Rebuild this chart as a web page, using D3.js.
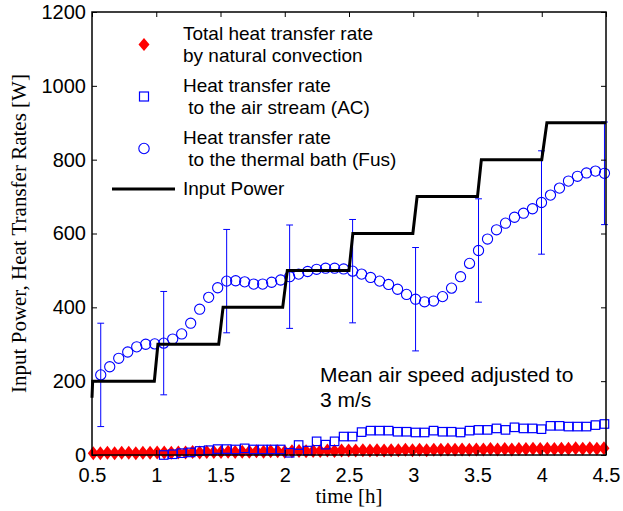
<!DOCTYPE html>
<html>
<head>
<meta charset="utf-8">
<script src="https://cdn.jsdelivr.net/npm/d3@7"></script>
<style>
  body { margin: 0; background: #fff; }
  svg { display: block; }
</style>
</head>
<body>
<svg id="chart" width="623" height="511"></svg>
<script>
// ---- data (time in hours, power in W) ----

// Input power: vertices of the stepped heater power curve
const powerTimes  = [0.5, 0.505, 0.985, 1.013, 1.486, 1.52, 1.984, 2.02, 2.5, 2.53, 2.997, 3.03, 3.5, 3.53, 4.0, 4.04, 4.5];
const powerValues = [155, 200, 200, 300, 300, 400, 400, 500, 500, 600, 600, 700, 700, 800, 800, 900, 900];

// Heat transfer rate to the thermal bath (Fus)
const fusTimes = [0.568, 0.638, 0.708, 0.778, 0.848, 0.918, 0.988, 1.058, 1.128, 1.198,
                  1.268, 1.338, 1.408, 1.478, 1.548, 1.618, 1.688, 1.758, 1.828, 1.898,
                  1.968, 2.038, 2.108, 2.178, 2.248, 2.318, 2.388, 2.458, 2.528, 2.598,
                  2.668, 2.738, 2.808, 2.878, 2.948, 3.018, 3.088, 3.158, 3.228, 3.298,
                  3.368, 3.438, 3.508, 3.578, 3.648, 3.718, 3.788, 3.858, 3.928, 3.998,
                  4.068, 4.138, 4.208, 4.278, 4.348, 4.418, 4.488];
const fusValues = [217, 239, 262, 279, 293, 300, 301, 303, 314, 328,
                   357, 395, 427, 453, 471, 472, 469, 463, 463, 468,
                   474, 483, 490, 497, 503, 506, 506, 504, 498, 490,
                   481, 471, 462, 449, 435, 422, 415, 417, 429, 452,
                   483, 519, 554, 585, 610, 628, 644, 655, 667, 684,
                   704, 723, 742, 755, 764, 769, 763];
// error bars: which Fus samples carry one, and the half-length of each bar
const fusErrorIndex = [0, 7, 14, 21, 28, 35, 42, 49, 56];
const fusErrorHalf  = [140, 140, 140, 140, 140, 140, 140, 140, 139];

// Heat transfer rate to the air stream (AC)
const acTimes = [1.058, 1.128, 1.198, 1.268, 1.338, 1.408, 1.478, 1.548, 1.618, 1.688,
                 1.758, 1.828, 1.898, 1.968, 2.038, 2.108, 2.178, 2.248, 2.318, 2.388,
                 2.458, 2.528, 2.598, 2.668, 2.738, 2.808, 2.878, 2.948, 3.018, 3.088,
                 3.158, 3.228, 3.298, 3.368, 3.438, 3.508, 3.578, 3.648, 3.718, 3.788,
                 3.858, 3.928, 3.998, 4.068, 4.138, 4.208, 4.278, 4.348, 4.418, 4.488];
const acValues = [0, 2, 5, 7, 11, 13, 16, 16, 15, 18,
                  15, 15, 15, 15, 6, 27, 12, 37, 28, 37,
                  50, 50, 62, 66, 66, 66, 63, 63, 61, 61,
                  66, 63, 63, 61, 66, 68, 68, 72, 68, 75,
                  72, 72, 70, 79, 79, 77, 77, 77, 81, 84];

// Total heat transfer rate by natural convection
const ncTimes = [0.510, 0.565, 0.620, 0.676, 0.731, 0.786, 0.841, 0.896, 0.952, 1.007,
                 1.062, 1.117, 1.172, 1.228, 1.283, 1.338, 1.393, 1.448, 1.504, 1.559,
                 1.614, 1.669, 1.724, 1.780, 1.835, 1.890, 1.945, 2.000, 2.056, 2.111,
                 2.166, 2.221, 2.276, 2.332, 2.387, 2.442, 2.497, 2.552, 2.608, 2.663,
                 2.718, 2.773, 2.828, 2.884, 2.939, 2.994, 3.049, 3.104, 3.160, 3.215,
                 3.270, 3.325, 3.380, 3.436, 3.491, 3.546, 3.601, 3.656, 3.712, 3.767,
                 3.822, 3.877, 3.932, 3.988, 4.043, 4.098, 4.153, 4.208, 4.264, 4.319,
                 4.374, 4.429, 4.484];
const ncValues = [5, 5, 6, 5, 6, 6, 5, 6, 6, 7,
                  7, 6, 7, 7, 8, 7, 8, 8, 8, 9,
                  8, 9, 9, 10, 9, 10, 10, 9, 10, 11,
                  10, 11, 11, 12, 11, 12, 12, 12, 13, 12,
                  13, 12, 13, 13, 14, 13, 14, 13, 14, 14,
                  15, 14, 15, 14, 15, 15, 16, 15, 16, 15,
                  16, 16, 17, 16, 17, 16, 17, 17, 18, 17,
                  18, 17, 18];

// axis ticks
const xTicks = [0.5, 1, 1.5, 2, 2.5, 3, 3.5, 4, 4.5];
const yTicks = [0, 200, 400, 600, 800, 1000, 1200];

// legend entries
const legendEntries = [
  { kind: "diamond", lines: ["Total heat transfer rate", "by natural convection"] },
  { kind: "square",  lines: ["Heat transfer rate", " to the air stream (AC)"] },
  { kind: "circle",  lines: ["Heat transfer rate", " to the thermal bath (Fus)"] },
  { kind: "line",    lines: ["Input Power"] }
];
const noteLines = ["Mean air speed adjusted to", "3 m/s"];

// ---- drawing ----
const SANS = "'Liberation Sans', Arial, Helvetica, sans-serif";
const SERIF = "'Liberation Serif', 'Times New Roman', serif";
const BLUE = "#0000ff", RED = "#ff0000";

const svg = d3.select("#chart");
const plotL = 92, plotR = 606, plotT = 12, plotB = 455;

const x = d3.scaleLinear().domain([0.5, 4.5]).range([plotL, plotR]);
const y = d3.scaleLinear().domain([0, 1200]).range([plotB, plotT]);

function diamondPath(w, h) {
  return `M0,${-h / 2}L${w / 2},0L0,${h / 2}L${-w / 2},0Z`;
}

// natural convection: filled red diamonds
svg.append("g")
  .selectAll("path")
  .data(ncTimes.map((t, i) => [t, ncValues[i]]))
  .join("path")
  .attr("d", diamondPath(11, 14))
  .attr("transform", d => `translate(${x(d[0])},${y(d[1])})`)
  .attr("fill", RED);

// air stream: open blue squares
const sq = 8.5;
svg.append("g")
  .selectAll("rect")
  .data(acTimes.map((t, i) => [t, acValues[i]]))
  .join("rect")
  .attr("x", d => x(d[0]) - sq / 2)
  .attr("y", d => y(d[1]) - sq / 2)
  .attr("width", sq)
  .attr("height", sq)
  .attr("fill", "none")
  .attr("stroke", BLUE)
  .attr("stroke-width", 1.2);

// thermal bath: error bars
const errData = fusErrorIndex.map((k, i) => ({ t: fusTimes[k], v: fusValues[k], e: fusErrorHalf[i] }));
const errG = svg.append("g").attr("stroke", BLUE).attr("stroke-width", 1).attr("fill", "none");
errG.selectAll("path")
  .data(errData)
  .join("path")
  .attr("d", d => {
    const cx = x(d.t), y1 = y(d.v + d.e), y0 = y(d.v - d.e), c = 3.4;
    return `M${cx},${y1}V${y0}M${cx - c},${y1}H${cx + c}M${cx - c},${y0}H${cx + c}`;
  });

// thermal bath: open blue circles
svg.append("g")
  .selectAll("circle")
  .data(fusTimes.map((t, i) => [t, fusValues[i]]))
  .join("circle")
  .attr("cx", d => x(d[0]))
  .attr("cy", d => y(d[1]))
  .attr("r", 5.1)
  .attr("fill", "none")
  .attr("stroke", BLUE)
  .attr("stroke-width", 1.1);

// input power step curve
const powerLine = d3.line().x(d => x(d[0])).y(d => y(d[1]));
svg.append("path")
  .datum(powerTimes.map((t, i) => [t, powerValues[i]]))
  .attr("d", powerLine)
  .attr("fill", "none")
  .attr("stroke", "#000")
  .attr("stroke-width", 3)
  .attr("stroke-linejoin", "miter");

// axes (inward ticks on all four sides)
const fmt = d => String(d);
const gx = svg.append("g").attr("transform", `translate(0,${plotB})`)
  .call(d3.axisBottom(x).tickValues(xTicks).tickFormat(fmt).tickSizeInner(-5).tickSizeOuter(0).tickPadding(13));
const gy = svg.append("g").attr("transform", `translate(${plotL},0)`)
  .call(d3.axisLeft(y).tickValues(yTicks).tickFormat(fmt).tickSizeInner(-5).tickSizeOuter(0).tickPadding(6));
const gxt = svg.append("g").attr("transform", `translate(0,${plotT})`)
  .call(d3.axisTop(x).tickValues(xTicks).tickFormat("").tickSizeInner(-5).tickSizeOuter(0));
const gyr = svg.append("g").attr("transform", `translate(${plotR},0)`)
  .call(d3.axisRight(y).tickValues(yTicks).tickFormat("").tickSizeInner(-5).tickSizeOuter(0));

[gx, gy, gxt, gyr].forEach(g => {
  g.select(".domain").remove();
  g.selectAll(".tick line").attr("stroke", "#000").attr("stroke-width", 1);
  g.selectAll(".tick text").attr("fill", "#000").style("font-family", SANS).style("font-size", "20px");
});

// frame
svg.append("rect")
  .attr("x", plotL).attr("y", plotT)
  .attr("width", plotR - plotL).attr("height", plotB - plotT)
  .attr("fill", "none").attr("stroke", "#000").attr("stroke-width", 1.5);

// axis titles
svg.append("text")
  .attr("x", (plotL + plotR) / 2).attr("y", 503)
  .attr("text-anchor", "middle")
  .style("font-family", SERIF).style("font-size", "21px")
  .text("time [h]");

svg.append("text")
  .attr("transform", `translate(26,${(plotT + plotB) / 2}) rotate(-90)`)
  .attr("text-anchor", "middle")
  .style("font-family", SERIF).style("font-size", "21px")
  .text("Input Power, Heat Transfer Rates [W]");

// legend
const legend = svg.append("g").style("font-family", SANS).style("font-size", "19px");
const legendRows = [
  { markerY: 44.5, baselines: [39.5, 61.5] },
  { markerY: 96.5, baselines: [91.5, 113.5] },
  { markerY: 148.5, baselines: [143.5, 165.5] },
  { markerY: 189, baselines: [195] }
];
legendEntries.forEach((entry, i) => {
  const row = legendRows[i];
  const mx = 144;
  if (entry.kind === "diamond") {
    legend.append("path").attr("d", diamondPath(11, 13))
      .attr("transform", `translate(${mx},${row.markerY})`).attr("fill", RED);
  } else if (entry.kind === "square") {
    legend.append("rect").attr("x", mx - 4.5).attr("y", row.markerY - 4.5)
      .attr("width", 9).attr("height", 9)
      .attr("fill", "none").attr("stroke", BLUE).attr("stroke-width", 1.2);
  } else if (entry.kind === "circle") {
    legend.append("circle").attr("cx", mx).attr("cy", row.markerY).attr("r", 5.2)
      .attr("fill", "none").attr("stroke", BLUE).attr("stroke-width", 1.1);
  } else {
    legend.append("line").attr("x1", 112).attr("x2", 175)
      .attr("y1", row.markerY).attr("y2", row.markerY)
      .attr("stroke", "#000").attr("stroke-width", 3);
  }
  entry.lines.forEach((ln, j) => {
    legend.append("text")
      .attr("x", 183).attr("y", row.baselines[j])
      .attr("xml:space", "preserve")
      .style("white-space", "pre")
      .attr("fill", "#000")
      .text(ln);
  });
});

// annotation
const note = svg.append("g").style("font-family", SANS).style("font-size", "21px");
noteLines.forEach((ln, j) => {
  note.append("text").attr("x", 320).attr("y", 381.5 + j * 25).attr("fill", "#000").text(ln);
});
</script>
</body>
</html>
